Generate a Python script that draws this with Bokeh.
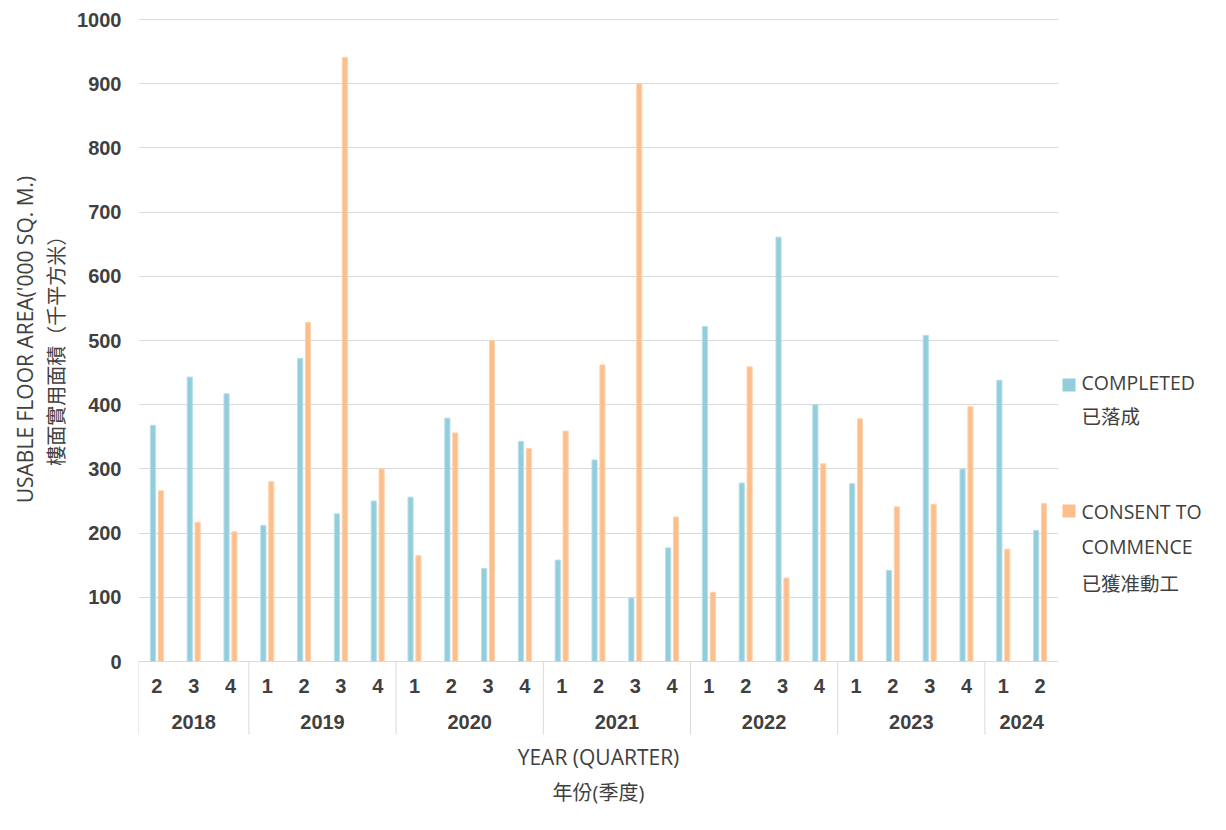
import math
from bokeh.plotting import figure
from bokeh.models import FactorRange, Range1d, FixedTicker, ColumnDataSource
from bokeh.layouts import row
from bokeh.transform import dodge
from bokeh.core.properties import value
from bokeh.embed import file_html
from bokeh.resources import INLINE

# ---------------- data ----------------
year_labels = ["2018", "2019", "2020", "2021", "2022", "2023", "2024"]
quarters_by_year = [["2", "3", "4"],
                    ["1", "2", "3", "4"],
                    ["1", "2", "3", "4"],
                    ["1", "2", "3", "4"],
                    ["1", "2", "3", "4"],
                    ["1", "2", "3", "4"],
                    ["1", "2"]]
completed = [368, 443, 417,
             212, 472, 230, 250,
             256, 379, 145, 343,
             158, 314, 99, 177,
             522, 278, 661, 400,
             277, 142, 508, 300,
             438, 204]
consent = [266, 217, 202,
           280, 528, 941, 300,
           165, 356, 500, 332,
           359, 462, 900, 225,
           108, 459, 130, 308,
           378, 241, 245, 397,
           175, 246]
y_ticks = [0, 100, 200, 300, 400, 500, 600, 700, 800, 900, 1000]

legend_lines_1 = ["COMPLETED"]
legend_lines_2 = ["CONSENT TO", "COMMENCE"]
series_names_zh = ["已落成", "已獲准動工"]
x_title = "YEAR (QUARTER)"
x_title_zh = "年份(季度)"
y_title = "USABLE FLOOR AREA('000 SQ. M.)"
y_title_zh = "樓面實用面積（千平方米）"

# ---------------- derived ----------------
factors = [(y, q) for y, qs in zip(year_labels, quarters_by_year) for q in qs]
quarter_text = [q for _, q in factors]
bounds = [0]
for qs in quarters_by_year:
    bounds.append(bounds[-1] + len(qs))
mids = [(a + b) / 2 for a, b in zip(bounds[:-1], bounds[1:])]
n = len(factors)

BLUE = "#92CDDC"
BLUE_EDGE = "#B7DEE8"
ORANGE = "#FCBF8B"
ORANGE_EDGE = "#FDD4B0"
TXT = "#404040"
GRID = "#D9D9D9"
LAT = "'Open Sans', 'Noto Sans CJK TC'"
ZH = "'Noto Sans CJK TC'"

H = 814
TOP = 18
yr = Range1d(-238.3, 1001.56)

# ---------------- main plot ----------------
p = figure(x_range=FactorRange(*factors, factor_padding=0, group_padding=0,
                               range_padding=0),
           y_range=yr, width=984, height=H,
           output_backend="svg", toolbar_location=None,
           x_axis_location=None,
           min_border_left=64, min_border_right=0,
           min_border_top=TOP, min_border_bottom=0)
p.outline_line_color = None
p.xgrid.visible = False
p.ygrid.ticker = FixedTicker(ticks=y_ticks)
p.ygrid.grid_line_color = GRID
p.ygrid.grid_line_width = 1

ax = p.yaxis[0]
ax.ticker = FixedTicker(ticks=y_ticks)
ax.axis_line_color = None
ax.major_tick_line_color = None
ax.minor_tick_line_color = None
ax.major_tick_out = 0
ax.major_tick_in = 0
ax.major_label_standoff = 17
ax.major_label_text_font = "Liberation Sans"
ax.major_label_text_font_style = "bold"
ax.major_label_text_font_size = "20px"
ax.major_label_text_color = TXT

src = ColumnDataSource(dict(x=factors, completed=completed, consent=consent,
                            q=quarter_text))

p.vbar(x=dodge("x", -0.107, range=p.x_range), top="completed", width=0.14,
       source=src, fill_color=BLUE, line_color=BLUE_EDGE, line_width=1)
p.vbar(x=dodge("x", 0.107, range=p.x_range), top="consent", width=0.14,
       source=src, fill_color=ORANGE, line_color=ORANGE_EDGE, line_width=1)

# category axis box lines
p.segment(x0=bounds, y0=0, x1=bounds, y1=-113.7, line_color=GRID, line_width=1)

# quarter & year labels
p.text(x="x", y=-38.9, text="q", source=src, text_align="center",
       text_baseline="middle", text_font=value("Liberation Sans"),
       text_font_style="bold", text_font_size="20px", text_color=TXT)
ysrc = ColumnDataSource(dict(x=mids, t=year_labels))
p.text(x="x", y=-94.2, text="t", source=ysrc, text_align="center",
       text_baseline="middle", text_font=value("Liberation Sans"),
       text_font_style="bold", text_font_size="20px", text_color=TXT)

# x axis titles
p.text(x=[n / 2], y=[-148], text=[x_title], text_align="center",
       text_baseline="middle", text_font=value(LAT), text_font_size="21px",
       text_color=TXT)
p.text(x=[n / 2], y=[-204], text=[x_title_zh], text_align="center",
       text_baseline="middle", text_font=value(LAT), text_font_size="20px",
       text_color=TXT)

# ---------------- y title panel ----------------
pt = figure(x_range=Range1d(0, 74), y_range=yr, width=74, height=H,
            output_backend="svg", toolbar_location=None,
            x_axis_location=None, y_axis_location=None,
            min_border_left=0, min_border_right=0,
            min_border_top=TOP, min_border_bottom=0)
pt.outline_line_color = None
pt.grid.visible = False
pt.text(x=[24], y=[501.6], text=[y_title], angle=math.pi / 2,
        text_align="center", text_baseline="middle", text_font=value(LAT),
        text_font_size="21px", text_color=TXT)
pt.text(x=[55], y=[492], text=[y_title_zh], angle=math.pi / 2,
        text_align="center", text_baseline="middle", text_font=value(ZH),
        text_font_size="20px", text_color=TXT)

# ---------------- legend panel ----------------
pl = figure(x_range=Range1d(0, 152), y_range=yr, width=152, height=H,
            output_backend="svg", toolbar_location=None,
            x_axis_location=None, y_axis_location=None,
            min_border_left=0, min_border_right=0,
            min_border_top=TOP, min_border_bottom=0)
pl.outline_line_color = None
pl.grid.visible = False
pl.quad(left=[4, 4], right=[17, 17], top=[440.8, 244.5], bottom=[420.6, 224.3],
        fill_color=[BLUE, ORANGE], line_color=None)
leg_src = ColumnDataSource(dict(
    t=legend_lines_1 + legend_lines_2,
    y=[434.6, 233.6, 179.1]))
pl.text(x=23, y="y", text="t", source=leg_src, text_align="left",
        text_baseline="middle", text_font=value(LAT), text_font_size="19.5px",
        text_color=TXT)
leg_zh = ColumnDataSource(dict(t=series_names_zh, y=[383, 123]))
pl.text(x=23, y="y", text="t", source=leg_zh, text_align="left",
        text_baseline="middle", text_font=value(ZH), text_font_size="19.5px",
        text_color=TXT)

layout = row(pt, p, pl)
open("out.html", "w").write(file_html(layout, INLINE))
